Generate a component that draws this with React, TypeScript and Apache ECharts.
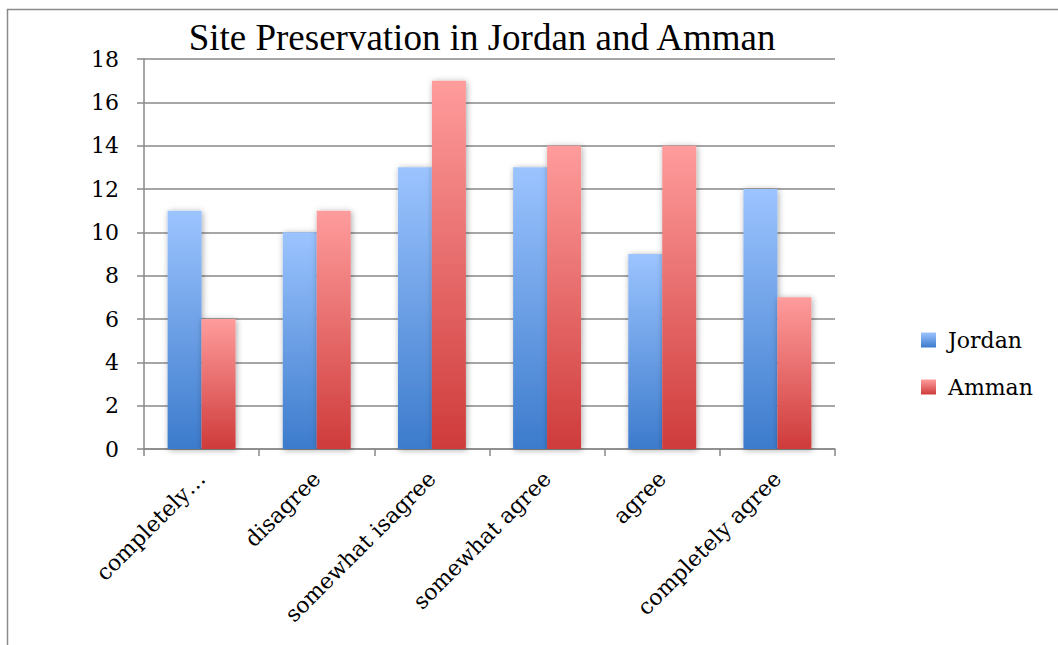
import React, { useEffect, useRef } from "react";
import * as echarts from "echarts";

const categories = [
  "completely…",
  "disagree",
  "somewhat isagree",
  "somewhat agree",
  "agree",
  "completely agree",
];
const jordan = [11, 10, 13, 13, 9, 12];
const amman = [6, 11, 17, 14, 14, 7];
const seriesNames = ["Jordan", "Amman"];

const labelFont = "DejaVu Serif";

export default function App() {
  const ref = useRef<HTMLDivElement>(null);
  useEffect(() => {
    document.body.style.margin = "0";
    const chart = echarts.init(ref.current!, null, { renderer: "svg" });
    const blueGrad = new echarts.graphic.LinearGradient(0, 0, 0, 1, [
      { offset: 0, color: "#9cc4ff" },
      { offset: 1, color: "#3c7bcc" },
    ]);
    const redGrad = new echarts.graphic.LinearGradient(0, 0, 0, 1, [
      { offset: 0, color: "#ff9c9c" },
      { offset: 1, color: "#cf3b3b" },
    ]);
    chart.setOption({
      animation: false,
      graphic: [
        {
          type: "rect",
          shape: { x: 7.5, y: 9.5, width: 1100, height: 700 },
          style: { fill: "none", stroke: "#8a8a8a", lineWidth: 1.5 },
          silent: true,
        },
        {
          type: "text",
          x: 482,
          y: 37,
          style: {
            text: "Site Preservation in Jordan and Amman",
            fontFamily: "Liberation Serif",
            fontSize: 37,
            fill: "#000",
            textAlign: "center",
            textVerticalAlign: "middle",
          },
        },
      ],
      grid: { left: 144, right: 223, top: 59, bottom: 196, containLabel: false },
      legend: {
        orient: "vertical",
        left: 916,
        top: 324,
        itemWidth: 15,
        itemHeight: 15,
        itemGap: 25,
        icon: "rect",
        textStyle: { fontFamily: labelFont, fontSize: 22, color: "#000", padding: [0, 0, 0, 7] },
        data: seriesNames,
      },
      xAxis: {
        type: "category",
        data: categories,
        axisLine: { lineStyle: { color: "#888", width: 1.5 } },
        axisTick: { show: true, length: 7, lineStyle: { color: "#888", width: 1.5 } },
        axisLabel: {
          rotate: 45,
          margin: 26,
          interval: 0,
          fontFamily: labelFont,
          fontSize: 22,
          color: "#000",
        },
      },
      yAxis: {
        type: "value",
        min: 0,
        max: 18,
        interval: 2,
        axisLine: { show: true, lineStyle: { color: "#888", width: 1.5 } },
        axisTick: { show: true, length: 7, lineStyle: { color: "#888", width: 1.5 } },
        splitLine: { lineStyle: { color: "#888", width: 1.5 } },
        axisLabel: { margin: 25, fontFamily: labelFont, fontSize: 22, color: "#000" },
      },
      series: [
        {
          name: seriesNames[0],
          type: "bar",
          data: jordan,
          barGap: "0%",
          barCategoryGap: "41%",
          itemStyle: {
            color: blueGrad,
            shadowBlur: 6,
            shadowColor: "rgba(0,0,0,0.35)",
            shadowOffsetX: 1,
            shadowOffsetY: 1,
          },
        },
        {
          name: seriesNames[1],
          type: "bar",
          data: amman,
          barGap: "0%",
          barCategoryGap: "41%",
          itemStyle: {
            color: redGrad,
            shadowBlur: 6,
            shadowColor: "rgba(0,0,0,0.35)",
            shadowOffsetX: 1,
            shadowOffsetY: 1,
          },
        },
      ],
    });
    return () => chart.dispose();
  }, []);
  return <div ref={ref} style={{ width: 1058, height: 645 }} />;
}
